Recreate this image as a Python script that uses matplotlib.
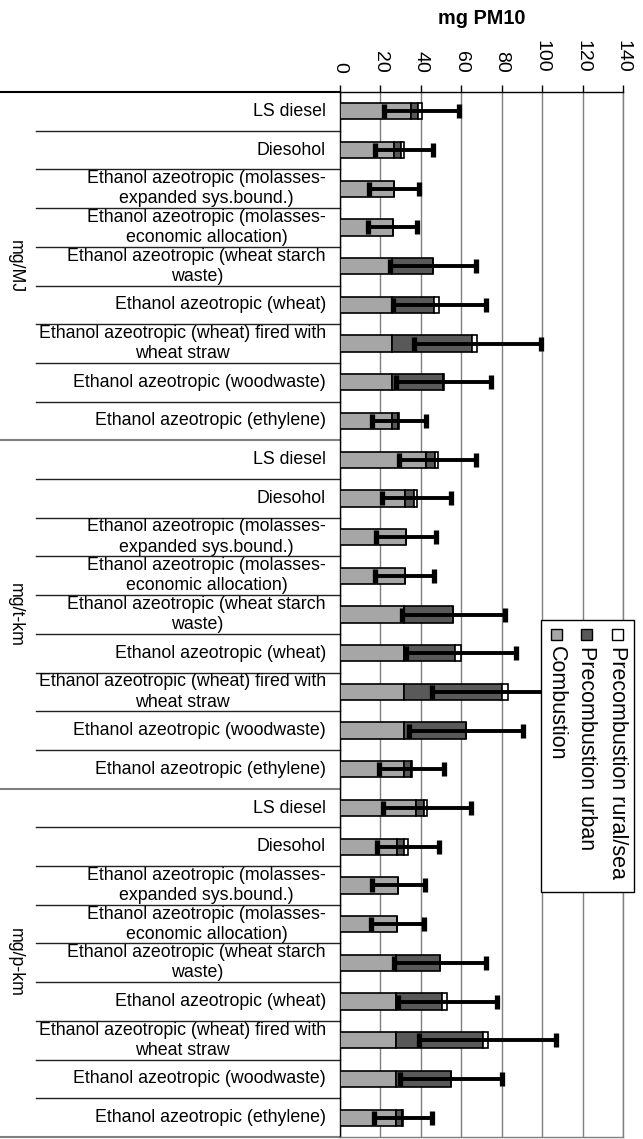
import numpy as np
import matplotlib
matplotlib.use('Agg')
import matplotlib.pyplot as plt
import matplotlib.transforms as mtransforms
from matplotlib.patches import Rectangle
from matplotlib.lines import Line2D

plt.rcParams['font.family'] = ['Liberation Sans', 'DejaVu Sans']

# ---------------- data ----------------
groups = ['mg/MJ', 'mg/t-km', 'mg/p-km']
categories = [
    'LS diesel',
    'Diesohol',
    'Ethanol azeotropic (molasses-\nexpanded sys.bound.)',
    'Ethanol azeotropic (molasses-\neconomic allocation)',
    'Ethanol azeotropic (wheat starch\nwaste)',
    'Ethanol azeotropic (wheat)',
    'Ethanol azeotropic (wheat) fired with\nwheat straw',
    'Ethanol azeotropic (woodwaste)',
    'Ethanol azeotropic (ethylene)',
]
series_names = ['Combustion', 'Precombustion urban', 'Precombustion rural/sea']

combustion = [35.1, 26.5, 26.6, 26.0, 25.8, 25.8, 25.8, 25.8, 25.8,
              42.3, 32.1, 32.4, 31.9, 31.6, 31.6, 31.6, 31.6, 31.6,
              37.5, 28.0, 28.8, 28.2, 27.7, 27.7, 27.7, 27.7, 27.7]
precomb_urban = [3.6, 3.6, 0.2, 0.1, 20.0, 20.8, 39.6, 25.3, 3.0,
                 4.6, 4.5, 0.2, 0.1, 24.2, 25.4, 48.3, 30.7, 3.5,
                 4.0, 3.6, 0.1, 0.1, 21.5, 22.5, 42.8, 27.1, 3.1]
precomb_rural = [1.6, 1.5, 0.0, 0.0, 0.2, 2.5, 2.4, 0.1, 0.3,
                 1.4, 1.3, 0.0, 0.0, 0.2, 2.8, 2.9, 0.1, 0.3,
                 1.5, 2.0, 0.0, 0.0, 0.2, 2.8, 2.5, 0.1, 0.3]
error = [18.5, 14.3, 12.4, 12.1, 21.1, 22.9, 31.4, 23.6, 13.4,
         19.0, 17.2, 14.8, 14.6, 25.3, 27.2, 37.5, 28.1, 16.0,
         21.6, 15.2, 13.2, 13.1, 22.7, 24.5, 33.8, 25.3, 14.5]
xticks = [0, 20, 40, 60, 80, 100, 120, 140]
xtick_labels = ['0', '20', '40', '60', '80', '100', '120', '140']

# ---------------- figure ----------------
W, H = 643, 1139
fig = plt.figure(figsize=(W / 100, H / 100), dpi=100)
ax_l, ax_r, ax_t, ax_b = 340, 623.3, 92, 1137
ax = fig.add_axes([ax_l / W, 1 - ax_b / H, (ax_r - ax_l) / W, (ax_b - ax_t) / H])
axw = ax_r - ax_l

comb = np.array(combustion)
urb = np.array(precomb_urban)
rur = np.array(precomb_rural)
err = np.array(error)
n = len(comb)
y = np.arange(n)
total = comb + urb + rur

c_comb, c_urb, c_rur = '#a6a6a6', '#595959', '#ffffff'
bh = 0.42
ax.barh(y, comb, height=bh, color=c_comb, edgecolor='black', lw=1.2, zorder=3)
ax.barh(y, urb, left=comb, height=bh, color=c_urb, edgecolor='black', lw=1.2, zorder=3)
ax.barh(y, rur, left=comb + urb, height=bh, color=c_rur, edgecolor='black', lw=1.2, zorder=3)
ax.errorbar(total, y, xerr=err, fmt='none', ecolor='black', elinewidth=2.8,
            capsize=5, capthick=3.8, zorder=4)

ax.set_xlim(0, 140)
ax.set_ylim(n - 0.5, -0.5)
ax.xaxis.tick_top()
ax.set_xticks(xticks)
ax.set_xticklabels(xtick_labels, rotation=-90, fontsize=14)
ax.tick_params(axis='x', direction='out', length=5, pad=9, width=1)
ax.set_yticks([])
ax.xaxis.grid(True, color='#7f7f7f', lw=1.0)
ax.set_axisbelow(True)
for s in ['left', 'top']:
    ax.spines[s].set_color('black')
    ax.spines[s].set_linewidth(1.0)
for s in ['right', 'bottom']:
    ax.spines[s].set_color('#7f7f7f')
    ax.spines[s].set_linewidth(1.0)

# category labels
ytr = ax.get_yaxis_transform()
lab_tr = mtransforms.offset_copy(ytr, fig=fig, x=-14, y=0, units='dots')
labels = categories * len(groups)
for yi, lab in zip(y, labels):
    ax.text(0, yi, lab, transform=lab_tr, ha='right', va='center',
            multialignment='center', fontsize=12.8, linespacing=1.25)

# separator lines
ncat = len(categories)
for k in range(n + 1):
    yb = k - 0.5
    if k % ncat == 0:
        x0 = (0 - ax_l) / axw
        col, lw = ('black' if k == 0 else '#7f7f7f'), 1.5
    else:
        x0 = (36 - ax_l) / axw
        col, lw = '#222222', 1.0
    ax.add_line(Line2D([x0, 0], [yb, yb], transform=ytr, color=col, lw=lw, clip_on=False))

# group labels
grp_tr = mtransforms.offset_copy(ytr, fig=fig, x=15 - ax_l, y=0, units='dots')
for gi, g in enumerate(groups):
    yc = gi * ncat + (ncat - 1) / 2
    ax.text(0, yc, g, transform=grp_tr, rotation=-90, ha='center', va='center', fontsize=12.8)

# title
fig.text((ax_l + ax_r) / 2 / W, 1 - 18 / H, 'mg PM10', ha='center', va='center',
         fontsize=14.3, fontweight='bold')

# legend (rotated, drawn manually)
lx0, lx1, ly0, ly1 = 541, 634, 620, 892
fig.patches.append(Rectangle((lx0 / W, 1 - ly1 / H), (lx1 - lx0) / W, (ly1 - ly0) / H,
                             transform=fig.transFigure, facecolor='white',
                             edgecolor='black', lw=1.0, zorder=10))
leg_x = [556.5, 586.5, 617.0]
leg_cols = [c_comb, c_urb, c_rur]
sq = 11
for xc, col, name in zip(leg_x, leg_cols, series_names):
    fig.patches.append(Rectangle(((xc - sq / 2) / W, 1 - 640 / H), sq / W, sq / H,
                                 transform=fig.transFigure, facecolor=col,
                                 edgecolor='black', lw=1.0, zorder=11))
    fig.text(xc / W, 1 - 646 / H, name, rotation=-90, rotation_mode='anchor',
             ha='left', va='center', fontsize=15.5, zorder=12)

fig.savefig('out.png', dpi=100)
